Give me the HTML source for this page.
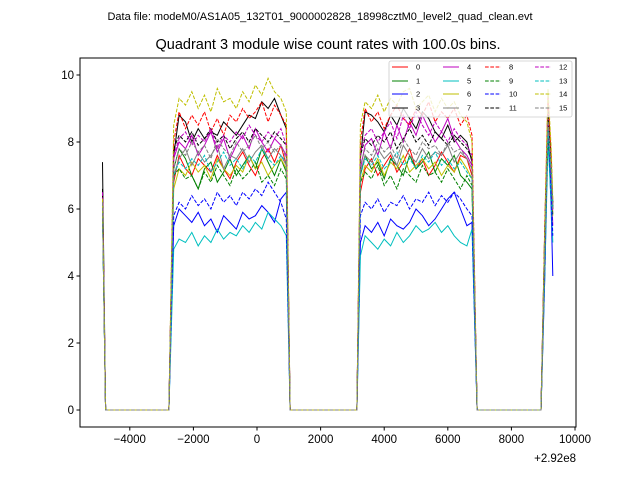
<!DOCTYPE html>
<html><head><meta charset="utf-8"><style>
body{margin:0;background:#fff;}
svg{display:block;font-family:"Liberation Sans","DejaVu Sans",sans-serif;}
</style></head><body>
<svg id="chart" width="640" height="480" viewBox="0 0 640 480">
<rect width="640" height="480" fill="#fff"/>
<text x="320" y="20" font-size="11" text-anchor="middle">Data file: modeM0/AS1A05_132T01_9000002828_18998cztM0_level2_quad_clean.evt</text>
<text x="328" y="49" font-size="14.5" text-anchor="middle">Quadrant 3 module wise count rates with 100.0s bins.</text>
<g id="plot"></g>
<g id="axes"></g>
<g id="legend"></g>
</svg>
<script>
const times=[-4860,-4760,-2770,-2620,-2450,-2250,-2050,-1850,-1650,-1450,-1250,-1050,-850,-650,-450,-250,-50,150,350,550,750,920,1040,3140,3250,3400,3600,3800,4000,4200,4400,4600,4800,5000,5200,5400,5600,5800,6000,6200,6400,6600,6760,6920,8930,9050,9150,9250,9300];
const xTicks=[-4000,-2000,0,2000,4000,6000,8000,10000];
const xTickLabels=["\u22124000","\u22122000","0","2000","4000","6000","8000","10000"];
const yTicks=[0,2,4,6,8,10];
const yTickLabels=["0","2","4","6","8","10"];
const seriesNames=["0","1","2","3","4","5","6","7","8","9","10","11","12","13","14","15"];
const s0=[6.3,0,0,6.8,7.6,7.2,7.0,7.5,7.3,7.1,7.6,7.2,6.9,7.4,7.7,7.3,7.0,7.5,7.8,7.4,7.9,7.3,0,0,6.5,7.2,7.5,7.0,7.3,7.6,7.1,7.4,7.8,7.2,7.5,7.0,7.3,7.7,7.4,7.1,7.6,7.5,7.0,0,0,5.0,9.3,7.5,6.0];
const s1=[6.0,0,0,7.2,7.8,7.5,7.0,6.6,7.2,7.4,6.8,7.1,7.5,7.0,7.3,7.6,7.2,7.8,7.4,7.0,7.5,7.1,0,0,7.0,7.6,7.2,7.4,6.9,7.5,7.3,7.0,7.6,7.2,7.4,7.7,7.1,7.5,7.3,7.6,7.0,6.8,6.6,0,0,4.8,8.5,7.0,6.2];
const s2=[6.0,0,0,5.5,6.0,5.8,5.6,5.9,5.5,5.7,5.3,5.8,5.6,5.4,5.9,5.7,5.8,6.1,5.9,5.6,6.3,6.5,0,0,5.0,5.5,5.3,5.6,5.2,5.7,5.5,5.4,5.6,6.0,5.8,5.5,5.7,6.0,6.3,6.5,6.0,5.5,5.6,0,0,4.0,8.5,6.0,4.0];
const s3=[7.4,0,0,7.6,8.8,8.6,8.0,8.4,8.1,8.3,8.2,8.6,8.4,8.2,8.5,8.8,8.7,9.2,9.0,9.3,8.8,8.4,0,0,7.5,8.9,8.8,8.6,8.3,8.8,8.5,9.0,8.7,8.4,8.9,8.7,8.3,8.1,8.5,8.0,8.2,8.0,7.4,0,0,5.5,8.8,7.0,6.0];
const s4=[6.5,0,0,7.5,8.0,7.8,8.2,7.6,7.9,8.3,7.7,8.1,7.5,7.9,8.2,7.8,8.4,8.0,7.7,8.1,7.9,7.6,0,0,7.2,7.9,8.1,7.6,8.3,7.8,8.5,8.0,8.6,8.2,8.8,8.4,8.0,8.3,8.7,8.1,7.8,7.6,7.3,0,0,5.0,8.3,6.8,5.5];
const s5=[6.0,0,0,4.8,5.1,5.0,5.3,4.9,5.2,5.0,5.4,5.1,5.3,5.2,5.5,5.3,5.6,5.4,5.9,5.7,5.5,5.2,0,0,4.6,5.2,5.0,4.8,5.1,4.9,5.3,5.0,5.2,5.5,5.3,5.4,5.6,5.3,5.5,5.2,5.0,4.9,5.4,0,0,4.0,8.0,6.2,5.0];
const s6=[6.3,0,0,6.6,7.2,7.0,7.4,7.1,7.3,6.9,7.5,7.2,7.0,7.3,7.1,7.6,7.2,7.4,7.0,7.3,7.5,7.2,0,0,6.8,7.3,7.1,7.5,7.0,7.4,7.2,7.6,7.1,7.3,7.5,7.2,7.4,7.0,7.3,7.1,7.5,7.2,6.9,0,0,4.5,8.7,7.0,5.8];
const s7=[6.2,0,0,7.0,7.5,7.8,7.3,7.7,7.4,7.6,7.9,7.2,7.6,7.5,7.8,7.4,7.7,7.9,7.5,7.8,7.6,7.3,0,0,7.1,7.6,7.4,7.8,7.5,7.7,7.3,7.9,7.6,7.4,7.8,7.5,7.7,7.6,7.9,7.4,7.7,7.5,7.2,0,0,4.7,8.5,7.2,6.0];
const s8=[6.4,0,0,8.0,8.9,8.4,8.8,8.5,8.9,8.3,8.7,8.2,8.8,8.6,9.0,8.7,8.9,9.2,8.6,9.1,8.8,8.5,0,0,8.0,9.0,8.6,8.9,8.4,8.8,9.1,8.7,8.5,9.0,8.8,9.2,8.6,8.9,8.7,9.0,8.5,8.8,8.2,0,0,5.5,9.4,7.6,6.2];
const s9=[6.0,0,0,7.0,7.2,6.9,7.0,6.6,7.1,6.8,7.3,7.0,6.7,7.2,6.9,7.1,7.4,6.8,7.0,6.7,7.2,6.9,0,0,6.8,7.1,6.9,7.3,6.7,7.0,6.6,7.2,7.0,6.8,7.3,7.0,7.1,6.8,7.2,6.9,6.6,7.0,6.7,0,0,4.6,8.2,6.9,5.8];
const s10=[6.2,0,0,5.8,6.2,6.0,6.4,6.1,6.3,6.0,6.5,6.2,6.4,6.1,6.5,6.3,6.6,6.4,6.8,6.5,6.2,5.7,0,0,5.8,6.2,6.0,6.3,5.9,6.2,6.1,6.4,6.0,6.3,6.2,6.5,6.1,6.4,6.2,6.5,6.3,6.0,5.8,0,0,4.3,8.6,6.5,5.2];
const s11=[6.6,0,0,7.8,8.2,8.0,8.3,7.9,8.1,8.4,8.0,8.2,7.8,8.1,8.3,8.0,8.4,8.2,8.0,8.3,8.1,7.9,0,0,7.6,8.1,7.9,8.2,8.0,8.3,7.8,8.1,8.4,8.0,8.2,7.9,8.3,8.1,7.9,8.2,8.0,7.8,7.5,0,0,5.2,8.9,7.2,6.1];
const s12=[6.5,0,0,7.6,8.1,8.3,7.9,8.2,8.0,8.4,7.8,8.2,8.0,8.3,8.1,8.5,8.2,8.0,8.3,8.1,8.4,7.9,0,0,7.7,8.2,8.4,8.0,8.3,8.6,8.1,8.8,8.4,8.9,8.5,8.2,8.6,8.3,8.0,8.4,8.1,7.9,7.6,0,0,5.0,8.6,7.0,5.9];
const s13=[6.1,0,0,7.0,7.4,7.2,7.5,7.3,7.6,7.1,7.4,7.7,7.3,7.5,7.2,7.6,7.4,7.8,7.5,7.3,7.6,7.4,0,0,7.0,7.5,7.3,7.6,7.2,7.4,7.7,7.3,7.5,7.2,7.6,7.4,7.7,7.3,7.5,7.2,7.4,7.1,6.9,0,0,4.8,8.4,7.1,6.0];
const s14=[6.3,0,0,8.5,9.3,9.1,9.5,9.0,9.4,8.9,9.6,9.2,9.3,9.0,9.5,9.2,9.7,9.4,9.9,9.5,9.3,8.9,0,0,8.5,9.2,9.0,9.4,8.9,9.3,9.1,9.5,9.6,9.0,9.2,9.4,8.9,9.3,9.0,9.2,8.8,8.6,8.0,0,0,5.6,9.6,7.8,6.3];
const s15=[6.2,0,0,7.2,7.8,7.6,8.0,7.7,7.9,7.5,8.1,7.8,7.6,8.0,7.7,7.9,8.2,7.8,8.0,7.7,7.9,7.5,0,0,7.3,7.8,7.6,8.0,7.7,7.9,7.5,8.1,7.8,7.6,8.0,7.8,7.9,7.6,8.0,7.7,7.8,7.5,7.2,0,0,4.9,8.7,7.1,6.0];
const allSeries=[s0,s1,s2,s3,s4,s5,s6,s7,s8,s9,s10,s11,s12,s13,s14,s15];

const NS="http://www.w3.org/2000/svg";
const colors=["#ff0000","#008000","#0000ff","#000000","#bf00bf","#00bfbf","#bfbf00","#808080"];
const L=80,R=576,T=58,B=427;
const xMin=-5566,xMax=10031,yMin=-0.507,yMax=10.507;
function xs(v){return L+(v-xMin)/(xMax-xMin)*(R-L);}
function ys(v){return B-(v-yMin)/(yMax-yMin)*(B-T);}
function mk(tag,attrs,parent){const e=document.createElementNS(NS,tag);for(const k in attrs)e.setAttribute(k,attrs[k]);parent.appendChild(e);return e;}
const plot=document.getElementById('plot'),axes=document.getElementById('axes'),leg=document.getElementById('legend');
const clip=mk('clipPath',{id:'pc'},plot);mk('rect',{x:L,y:T,width:R-L,height:B-T},clip);
allSeries.forEach((s,i)=>{
  const n=Math.min(s.length,times.length);
  let d='';
  for(let j=0;j<n;j++)d+=(j?'L':'M')+xs(times[j]).toFixed(1)+','+ys(s[j]).toFixed(1);
  const p=mk('path',{d:d,fill:'none',stroke:colors[i%8],'stroke-width':1,'clip-path':'url(#pc)'},plot);
  if(i>=8)p.setAttribute('stroke-dasharray','3.7,1.6');
  
  
});
const frame=mk('rect',{x:L,y:T,width:R-L,height:B-T,fill:'none',stroke:'#000','stroke-width':1},axes);


xTicks.forEach((v,i)=>{
  const x=xs(v);
  mk('line',{x1:x,x2:x,y1:B,y2:B+3.5,stroke:'#000'},axes);
  const t=mk('text',{x:x,y:B+16,'font-size':'11.5','text-anchor':'middle'},axes);
  t.textContent=xTickLabels[i];
  
  
});
yTicks.forEach((v,i)=>{
  const y=ys(v);
  mk('line',{x1:L-3.5,x2:L,y1:y,y2:y,stroke:'#000'},axes);
  const t=mk('text',{x:L-6,y:y+4,'font-size':'11.5','text-anchor':'end'},axes);
  t.textContent=yTickLabels[i];
  
  
});
const off=mk('text',{x:R,y:462,'font-size':'11.5','text-anchor':'end'},axes);
off.textContent='+2.92e8';


mk('rect',{x:389,y:61,width:183,height:56,rx:2,fill:'#fff','fill-opacity':0.8,stroke:'#ccc','stroke-width':0.8},leg);
const colX=[392,443,485,535],rowY=[67,81,94,108];
seriesNames.forEach((nm,i)=>{
  const c=Math.floor(i/4),r=i%4;
  const g=mk('g',{},leg);
  
  
  const ln=mk('line',{x1:colX[c],x2:colX[c]+16,y1:rowY[r],y2:rowY[r],stroke:colors[i%8],'stroke-width':1},g);
  if(i>=8)ln.setAttribute('stroke-dasharray','3.7,1.6');
  const t=mk('text',{x:colX[c]+24,y:rowY[r]+2.5,'font-size':'7.5'},g);
  t.textContent=nm;
});
</script>
</body></html>
